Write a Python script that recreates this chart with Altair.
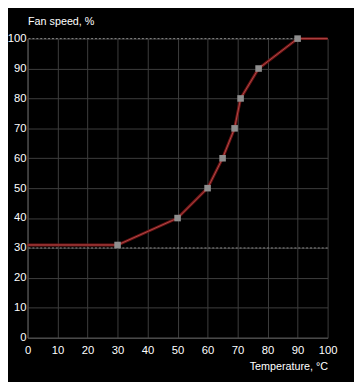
import altair as alt
import pandas as pd

temps = [0, 30, 50, 60, 65, 69, 71, 77, 90, 100]
speeds = [31, 31, 40, 50, 60, 70, 80, 90, 100, 100]
is_point = [False, True, True, True, True, True, True, True, True, False]
ref_levels = [100, 30]
ticks = list(range(0, 101, 10))

df = pd.DataFrame({"t": temps, "s": speeds, "p": is_point})
pts = df[df["p"]]
refs = pd.DataFrame({"y": ref_levels})

xs = alt.Scale(domain=[0, 100], nice=False)
ys = alt.Scale(domain=[0, 100], nice=False)

common = dict(values=ticks, grid=True, gridColor="#3e3e3e", domainColor="#5a5a5a",
              ticks=False, labelColor="#ffffff", labelFontSize=11.5,
              labelFont="Liberation Sans", labelOverlap=False, labelFlush=False,
              titleColor="#ffffff", titleFont="Liberation Sans", titleFontSize=11,
              titleFontWeight="normal")

xaxis = alt.Axis(title="Temperature, °C", labelPadding=7,
                 titleAnchor="end", titleAlign="right", titleX=307, titleY=30,
                 titleBaseline="middle", **common)
yaxis = alt.Axis(title="Fan speed, %", labelPadding=1.5,
                 titleAngle=0, titleAlign="left", titleX=0, titleY=-17,
                 titleBaseline="middle", **common)

X = alt.X("t:Q", scale=xs, axis=xaxis)
Y = alt.Y("s:Q", scale=ys, axis=yaxis)

base = alt.Chart(df)

rules = alt.Chart(refs).mark_rule(color="#8a8a8a", strokeDash=[2, 2], strokeWidth=1).encode(
    y=alt.Y("y:Q", scale=ys, axis=yaxis),
)
outer = base.mark_line(color="#6e1414", strokeWidth=3).encode(x=X, y=Y)
inner = base.mark_line(color="#b04848", strokeWidth=1).encode(x=X, y=Y)
marks = alt.Chart(pts).mark_square(size=45, color="#8e8e8e", opacity=1).encode(x=X, y=Y)

chart = alt.layer(rules, outer, inner, marks).properties(
    width=307, height=306,
    background="#000000",
    padding={"left": 20, "top": 27, "right": 27, "bottom": 41},
    autosize=alt.AutoSizeParams(type="none"),
).configure_view(stroke=None)

chart.save("out.html", embed_options={"renderer": "svg", "actions": False})
